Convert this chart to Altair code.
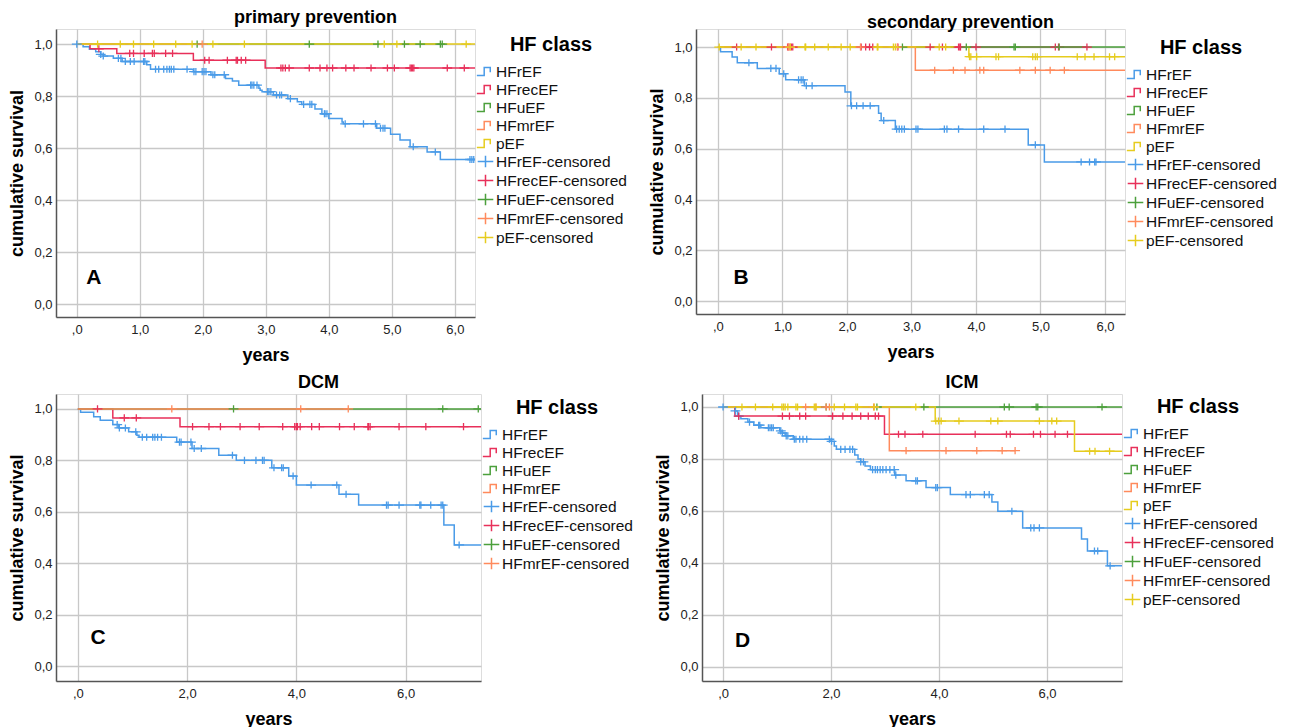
import altair as alt
import pandas as pd

FONT = "Liberation Sans"
CLASSES = ["HFrEF", "HFrecEF", "HFuEF", "HFmrEF", "pEF"]
COLORS = ["#4a9be8", "#e8305a", "#4ca03c", "#ff8a5c", "#e6cc1e"]
STEP_PATH = "M-1,0.45H-0.15V-0.45H0.55V0.1"
CROSS_PATH = "M-0.9,0H0.9M0,-0.65V0.65"

# ---------------- Panel A: primary prevention ----------------
A_rEF_t = [0, 0.10, 0.20, 0.30, 0.38, 0.42, 0.58, 0.72, 1.11, 1.17, 1.85, 2.13, 2.36, 2.47, 2.57, 2.89, 2.91,
           2.94, 3.12, 3.35, 3.50, 3.57, 3.78, 3.89, 4.00, 4.21, 4.23, 4.76, 4.98, 5.13, 5.29, 5.56, 5.77]
A_rEF_s = [1.0, 0.99, 0.98, 0.97, 0.96, 0.954, 0.945, 0.933, 0.92, 0.903, 0.894, 0.882, 0.868, 0.858, 0.842, 0.83,
           0.822, 0.817, 0.804, 0.79, 0.778, 0.768, 0.75, 0.732, 0.714, 0.70, 0.693, 0.676, 0.653, 0.631, 0.605,
           0.585, 0.556]
A_rEF_c = [0.0, 0.38, 0.42, 0.66, 0.70, 0.77, 0.85, 0.91, 1.06, 1.08, 1.25, 1.30, 1.38, 1.43, 1.47, 1.50, 1.54,
           1.75, 1.86, 1.89, 1.99, 2.02, 2.05, 2.16, 2.19, 2.34, 2.76, 2.78, 2.81, 2.86, 3.03, 3.05, 3.08, 3.17,
           3.22, 3.25, 3.39, 3.60, 3.70, 3.73, 3.93, 3.94, 3.97, 4.26, 4.55, 4.74, 4.82, 4.86, 4.89, 5.34, 5.69,
           6.24, 6.27, 6.30]
A_rec_t = [0, 0.21, 0.635, 1.85, 2.99]
A_rec_s = [1.0, 0.982, 0.964, 0.938, 0.908]
A_rec_c = [0.35, 0.84, 0.90, 1.07, 1.20, 1.23, 1.41, 1.52, 2.03, 2.10, 2.39, 2.53, 2.55, 2.61, 2.68, 3.24, 3.27,
           3.31, 3.37, 3.69, 3.86, 3.97, 4.06, 4.27, 4.40, 4.67, 4.93, 5.04, 5.29, 5.31, 5.33, 5.35, 5.88, 6.15]
A_uEF_t = [0]
A_uEF_s = [1.0]
A_uEF_c = [1.91, 3.69, 4.78, 5.20, 5.45, 5.77, 5.80]
A_mr_t = [0]
A_mr_s = [1.0]
A_mr_c = [1.99]
A_pEF_t = [0]
A_pEF_s = [1.0]
A_pEF_c = [0.33, 0.69, 0.90, 1.22, 1.57, 1.83, 2.16, 2.66, 4.88, 5.08, 6.18]
A_end = [6.35, 6.35, 5.80, 1.99, 6.35]

# ---------------- Panel B: secondary prevention ----------------
B_rEF_t = [0, 0.04, 0.22, 0.30, 0.61, 0.95, 1.05, 1.34, 1.97, 2.06, 2.49, 2.53, 2.75, 4.81, 5.06]
B_rEF_s = [1.0, 0.982, 0.961, 0.938, 0.916, 0.895, 0.871, 0.848, 0.823, 0.769, 0.74, 0.711, 0.677, 0.615, 0.548]
B_rEF_c = [0.48, 0.82, 0.90, 1.02, 1.25, 1.29, 1.32, 1.37, 1.46, 2.07, 2.15, 2.25, 2.36, 2.57, 2.77, 2.81, 2.85,
           2.89, 3.07, 3.10, 3.51, 3.55, 3.73, 4.12, 4.45, 4.92, 5.63, 5.76, 5.84, 5.86]
B_rec_t = [0]
B_rec_s = [1.0]
B_rec_c = [0.29, 0.83, 1.08, 1.10, 1.14, 1.16, 2.22, 2.29, 2.35, 2.40, 2.79, 3.29, 3.48, 3.73, 3.75, 3.76, 4.00,
           5.23, 5.28, 5.72]
B_uEF_t = [0]
B_uEF_s = [1.0]
B_uEF_c = [2.86, 3.85, 4.59, 4.61, 5.29]
B_mr_t = [0, 3.06]
B_mr_s = [1.0, 0.909]
B_mr_c = [1.09, 1.12, 2.21, 2.78, 3.36, 3.65, 3.83, 4.06, 4.12, 4.68, 4.92, 5.15, 5.37]
B_pEF_t = [0, 3.89]
B_pEF_s = [1.0, 0.962]
B_pEF_c = [0.02, 0.36, 0.59, 1.12, 1.35, 1.36, 1.50, 1.71, 1.91, 2.05, 2.47, 2.48, 2.72, 2.75, 3.43, 3.53, 3.90,
           3.92, 4.01, 4.31, 4.35, 4.88, 4.92, 4.95, 5.57, 5.69, 5.83, 6.07, 6.15]
B_end = [6.35, 5.72, 6.35, 6.35, 6.35]

# ---------------- Panel C: DCM ----------------
C_rEF_t = [0, 0.05, 0.29, 0.41, 0.64, 0.75, 0.93, 1.08, 1.12, 1.81, 2.09, 2.58, 2.90, 3.55, 3.86, 4.00, 4.78,
           5.14, 6.70, 6.89]
C_rEF_s = [1.0, 0.987, 0.970, 0.956, 0.939, 0.926, 0.911, 0.898, 0.89, 0.871, 0.846, 0.82, 0.80, 0.771, 0.739,
           0.704, 0.668, 0.626, 0.549, 0.471]
C_rEF_c = [0.72, 0.76, 0.87, 1.06, 1.18, 1.26, 1.37, 1.41, 1.46, 1.53, 1.86, 1.89, 2.07, 2.13, 2.26, 2.83, 3.05,
           3.26, 3.38, 3.41, 3.59, 3.73, 3.76, 3.94, 4.27, 4.74, 4.91, 5.65, 5.68, 5.88, 6.26, 6.28, 6.46, 6.65,
           6.68, 6.98]
C_rec_t = [0, 0.64, 1.87]
C_rec_s = [1.0, 0.965, 0.931]
C_rec_c = [0.36, 0.85, 1.07, 2.10, 2.40, 2.61, 2.97, 3.32, 3.75, 3.97, 4.00, 4.02, 4.07, 4.28, 4.42, 4.79, 5.06,
           5.31, 5.32, 5.35, 5.88, 6.37, 7.06]
C_uEF_t = [0]
C_uEF_s = [1.0]
C_uEF_c = [2.85, 6.68, 7.33]
C_mr_t = [0]
C_mr_s = [1.0]
C_mr_c = [1.72, 4.08, 4.95]
C_end = [7.4, 7.4, 7.4, 4.95]

# ---------------- Panel D: ICM ----------------
D_rEF_t = [0, 0.22, 0.27, 0.33, 0.46, 0.57, 0.70, 1.05, 1.10, 1.15, 1.30, 1.98, 2.06, 2.10, 2.44, 2.50, 2.55,
           2.63, 2.73, 3.18, 3.39, 3.76, 4.21, 4.98, 5.09, 5.55, 6.64, 6.75, 7.12]
D_rEF_s = [1.0, 0.985, 0.965, 0.955, 0.942, 0.93, 0.92, 0.908, 0.90, 0.889, 0.876, 0.868, 0.85, 0.837, 0.815,
           0.80, 0.789, 0.773, 0.759, 0.738, 0.716, 0.69, 0.663, 0.635, 0.599, 0.535, 0.492, 0.446, 0.389]
D_rEF_c = [0.0, 0.23, 0.29, 0.49, 0.66, 0.68, 0.84, 0.87, 0.90, 0.93, 1.07, 1.10, 1.17, 1.20, 1.32, 1.35, 1.42,
           1.48, 1.55, 1.97, 2.01, 2.18, 2.26, 2.35, 2.40, 2.55, 2.60, 2.77, 2.82, 2.86, 2.91, 2.96, 3.02, 3.09,
           3.17, 3.20, 3.57, 3.60, 3.94, 3.97, 4.50, 4.58, 4.84, 4.93, 5.35, 5.70, 5.76, 5.86, 6.88, 6.94, 7.17]
D_rec_t = [0, 0.22, 2.99]
D_rec_s = [1.0, 0.965, 0.895]
D_rec_c = [0.29, 1.10, 1.23, 1.42, 1.53, 2.03, 2.22, 2.39, 2.55, 2.69, 2.82, 2.88, 3.25, 3.37, 3.70, 4.67, 5.25,
           5.32, 5.75, 5.88, 6.15, 6.38]
D_uEF_t = [0]
D_uEF_s = [1.0]
D_uEF_c = [1.91, 2.85, 3.72, 5.21, 5.30, 5.80, 5.83, 7.02]
D_mr_t = [0, 3.08]
D_mr_s = [1.0, 0.832]
D_mr_c = [1.53, 1.72, 1.91, 1.97, 2.79, 3.39, 4.13, 4.70, 5.17, 5.41]
D_pEF_t = [0, 3.93, 6.51]
D_pEF_s = [1.0, 0.946, 0.83]
D_pEF_c = [0.35, 0.60, 0.92, 1.09, 1.12, 1.15, 1.20, 1.35, 1.38, 1.69, 1.72, 2.06, 2.25, 2.46, 2.49, 2.80, 3.57,
           3.94, 3.99, 4.04, 4.37, 4.96, 5.09, 5.86, 6.09, 6.18, 6.79, 6.89, 7.16]
D_end = [7.4, 7.4, 7.4, 5.41, 7.4]


def surv_at(times, survs, t):
    val = survs[0]
    for ti, si in zip(times, survs):
        if ti <= t + 1e-9:
            val = si
    return val


def panel(title, letter, curves, ends, width, height, xdom, ydom, xticks, letter_pos,
          legend_y=6, title_dy=0):
    n = len(curves)
    classes = CLASSES[:n]
    labels = classes + [c + "-censored" for c in classes]
    colors = COLORS[:n] + COLORS[:n]
    shapes = [STEP_PATH] * n + [CROSS_PATH] * n

    line_rows, cens_rows = [], []
    for cls, (ts, ss, cs), end in zip(classes, curves, ends):
        for t, s in zip(ts, ss):
            line_rows.append({"lab": cls, "t": t, "s": s})
        line_rows.append({"lab": cls, "t": end, "s": ss[-1]})
        for c in cs:
            cens_rows.append({"lab": cls + "-censored", "t": c, "s": surv_at(ts, ss, c)})
    lines_df = pd.DataFrame(line_rows)
    cens_df = pd.DataFrame(cens_rows)

    legend = alt.Legend(
        title="HF class", orient="none", legendX=width + 1, legendY=legend_y,
        titleFontSize=20, titleFontWeight="bold", titleFont=FONT, titleColor="#000",
        titleAnchor="middle", titlePadding=7,
        labelFontSize=15.5, labelFont=FONT, labelColor="#111", labelOffset=1,
        symbolSize=300, symbolStrokeWidth=1.5, rowPadding=-1, symbolFillColor="transparent",
    )
    xscale = alt.Scale(domain=xdom, nice=False, zero=False)
    yscale = alt.Scale(domain=ydom, nice=False, zero=False)
    xaxis = alt.Axis(
        values=xticks, title="years",
        labelExpr="datum.value == 0 ? ',0' : replace(format(datum.value, '.1f'), '.', ',')",
        grid=True, gridColor="#c8c8c8", gridWidth=1.3, domainColor="#555", domainWidth=1.5,
        ticks=False, labelFontSize=13, labelColor="#222", labelFont=FONT, labelPadding=6,
        titleFontSize=18, titleFontWeight="bold", titleFont=FONT, titleColor="#000", titlePadding=10,
    )
    yaxis = alt.Axis(
        values=[0, 0.2, 0.4, 0.6, 0.8, 1.0], title="cumulative survival",
        labelExpr="replace(format(datum.value, '.1f'), '.', ',')",
        grid=True, gridColor="#c8c8c8", gridWidth=1.3, domainColor="#555", domainWidth=1.5,
        ticks=False, labelFontSize=13, labelColor="#222", labelFont=FONT, labelPadding=4,
        titleFontSize=18, titleFontWeight="bold", titleFont=FONT, titleColor="#000", titlePadding=7,
    )
    color = alt.Color("lab:N", scale=alt.Scale(domain=labels, range=colors), legend=legend)

    layers = []
    for cls in classes:
        sub = lines_df[lines_df["lab"] == cls]
        layers.append(
            alt.Chart(sub).mark_line(interpolate="step-after", strokeWidth=1.5, clip=True).encode(
                x=alt.X("t:Q", scale=xscale, axis=xaxis),
                y=alt.Y("s:Q", scale=yscale, axis=yaxis),
                color=color,
            )
        )
    layers.append(
        alt.Chart(cens_df).mark_point(filled=False, size=120, strokeWidth=1.3, opacity=1, clip=True).encode(
            x=alt.X("t:Q", scale=xscale, axis=xaxis),
            y=alt.Y("s:Q", scale=yscale, axis=yaxis),
            color=color,
            shape=alt.Shape("lab:N", scale=alt.Scale(domain=labels, range=shapes), legend=legend),
        )
    )
    letter_df = pd.DataFrame({"t": [letter_pos[0]], "s": [letter_pos[1]], "txt": [letter]})
    layers.append(
        alt.Chart(letter_df).mark_text(fontSize=21, fontWeight="bold", font=FONT, color="#000").encode(
            x=alt.X("t:Q", scale=xscale, axis=xaxis),
            y=alt.Y("s:Q", scale=yscale, axis=yaxis),
            text="txt:N",
        )
    )
    return alt.layer(*layers).properties(
        width=width, height=height,
        title=alt.TitleParams(title, fontSize=18, fontWeight="bold", font=FONT, color="#000",
                              anchor="middle", offset=2, dx=50, dy=title_dy),
    )


pA = panel("primary prevention", "A",
           [(A_rEF_t, A_rEF_s, A_rEF_c), (A_rec_t, A_rec_s, A_rec_c), (A_uEF_t, A_uEF_s, A_uEF_c),
            (A_mr_t, A_mr_s, A_mr_c), (A_pEF_t, A_pEF_s, A_pEF_c)], A_end,
           419, 288, [-0.33, 6.32], [-0.05, 1.058], [0, 1, 2, 3, 4, 5, 6], (0.27, 0.1), legend_y=6)
pB = panel("secondary prevention", "B",
           [(B_rEF_t, B_rEF_s, B_rEF_c), (B_rec_t, B_rec_s, B_rec_c), (B_uEF_t, B_uEF_s, B_uEF_c),
            (B_mr_t, B_mr_s, B_mr_c), (B_pEF_t, B_pEF_s, B_pEF_c)], B_end,
           429, 285, [-0.34, 6.31], [-0.05, 1.071], [0, 1, 2, 3, 4, 5, 6], (0.36, 0.09), legend_y=9,
           title_dy=5)
pC = panel("DCM", "C",
           [(C_rEF_t, C_rEF_s, C_rEF_c), (C_rec_t, C_rec_s, C_rec_c), (C_uEF_t, C_uEF_s, C_uEF_c),
            (C_mr_t, C_mr_s, C_mr_c)], C_end,
           425, 287, [-0.40, 7.38], [-0.058, 1.058], [0, 2, 4, 6], (0.37, 0.11), legend_y=4)
pD = panel("ICM", "D",
           [(D_rEF_t, D_rEF_s, D_rEF_c), (D_rec_t, D_rec_s, D_rec_c), (D_uEF_t, D_uEF_s, D_uEF_c),
            (D_mr_t, D_mr_s, D_mr_c), (D_pEF_t, D_pEF_s, D_pEF_c)], D_end,
           420, 287, [-0.39, 7.39], [-0.054, 1.05], [0, 2, 4, 6], (0.36, 0.1), legend_y=3)

top = alt.hconcat(pA, pB, spacing=20).resolve_scale(color="independent", shape="independent")
bottom = alt.hconcat(pC, pD, spacing=20).resolve_scale(color="independent", shape="independent")
chart = alt.vconcat(top, bottom, spacing=8).properties(padding=0).configure_view(stroke=None).configure(
    font=FONT, background="white")

chart.save("out.html", embed_options={"renderer": "svg", "actions": False})
